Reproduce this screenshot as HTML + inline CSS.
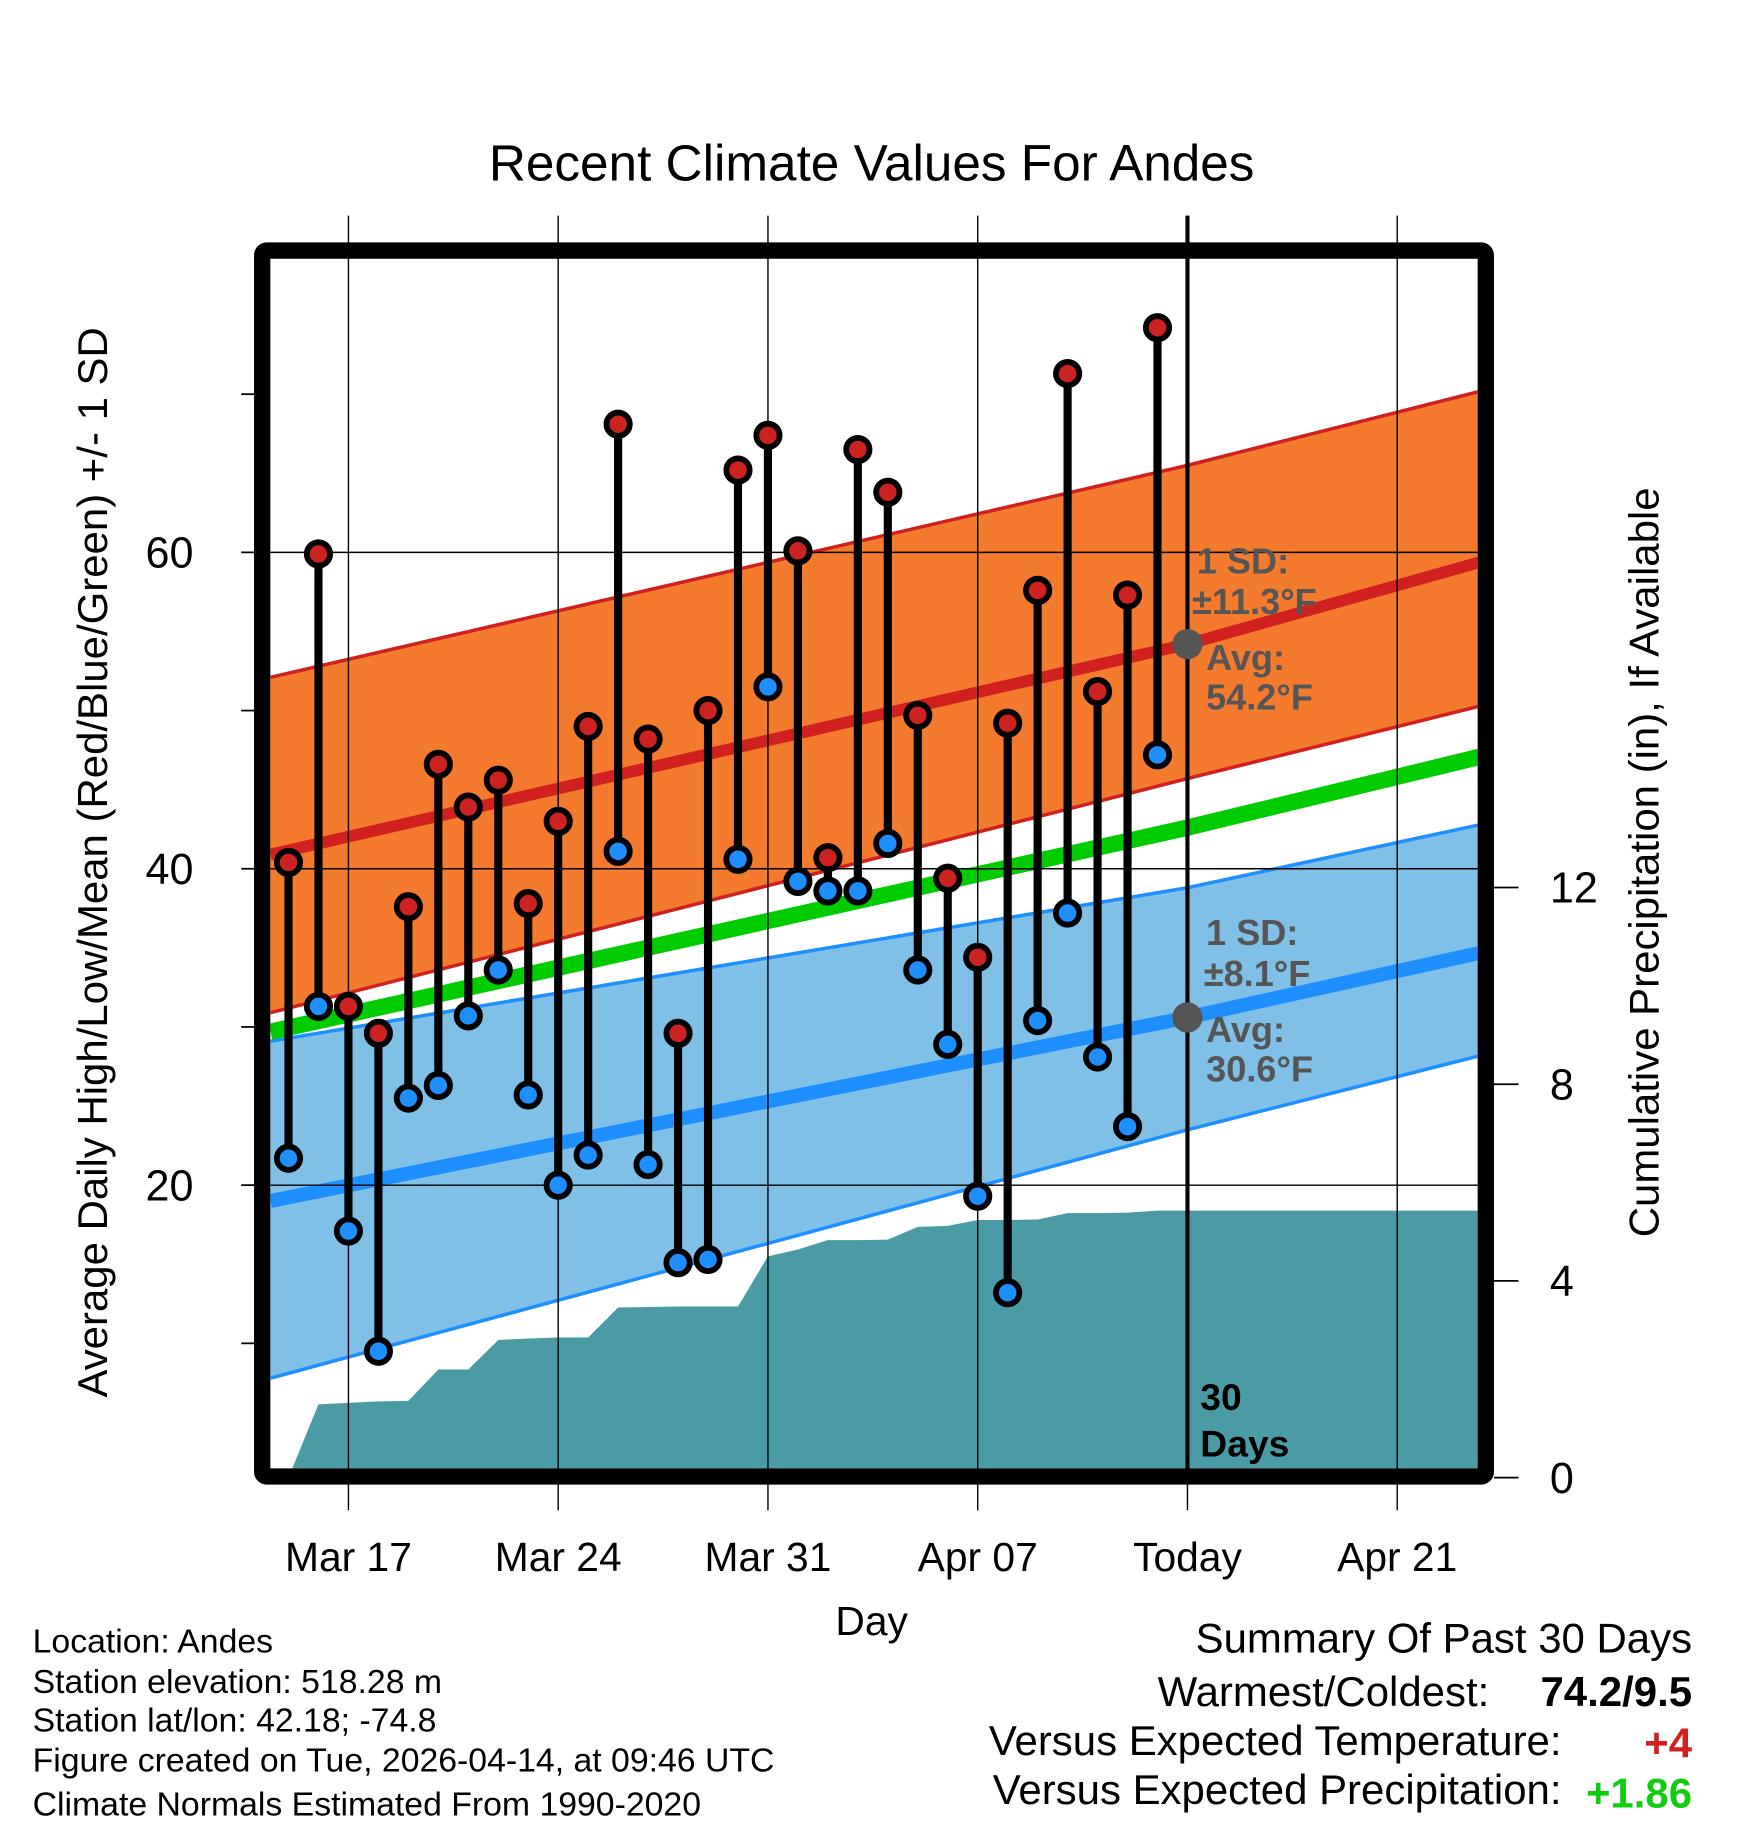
<!DOCTYPE html>
<html><head><meta charset="utf-8"><style>
html,body{margin:0;padding:0;background:#fff;}
svg{display:block;font-family:"Liberation Sans",Arial,sans-serif;}
</style></head><body>
<svg id="chart" width="1748" height="1828" viewBox="0 0 1500 1568.65" xmlns="http://www.w3.org/2000/svg">
<g id="bg"></g>
</svg>
<script>
const dayOffsets=[-2,-1,0,1,2,3,4,5,6,7,8,9,10,11,12,13,14,15,16,17,18,19,20,21,22,23,24,25,26,27];
const highs=[40.4,59.9,31.3,29.6,37.6,46.6,43.9,45.6,37.8,43.0,49.0,68.1,48.2,29.6,50.0,65.2,67.4,60.1,40.7,66.5,63.8,49.7,39.4,34.4,49.2,57.6,71.3,51.2,57.3,74.2];
const lows=[21.7,31.3,17.1,9.5,25.5,26.3,30.7,33.6,25.7,20.0,21.9,41.1,21.3,15.1,15.3,40.6,51.5,39.2,38.6,38.6,41.6,33.6,28.9,19.3,13.2,30.4,37.2,28.1,23.7,47.2];
const precip=[0,1.49,1.52,1.55,1.56,2.2,2.2,2.8,2.83,2.85,2.85,3.46,3.47,3.48,3.48,3.48,4.5,4.64,4.83,4.83,4.84,5.1,5.12,5.24,5.24,5.25,5.38,5.38,5.39,5.43];
const normDays=[-2.6,28,37.8];
const normHighMean=[40.9,54.2,59.4];
const normHighUpper=[52.1,65.5,70.2];
const normHighLower=[30.9,45.7,50.3];
const normLowMean=[19.0,30.6,34.7];
const normLowUpper=[29.1,38.8,42.8];
const normLowLower=[7.8,23.5,28.2];
const normMean=[29.7,42.6,47.1];
const xTickDays=[0,7,14,21,28,35];
const xTickLabels=["Mar 17","Mar 24","Mar 31","Apr 07","Today","Apr 21"];
const yTicks=[20,40,60];
const yMinor=[10,30,50,70];
const pTicks=[0,4,8,12];

const NS="http://www.w3.org/2000/svg";
const svg=document.getElementById('chart');
const X0=232,X1=1268,Y0=222,Y1=1260;
const x=d=>299+d*25.714;
const y=t=>1017-(t-20)*13.575;
const yp=p=>1268-p*42.2;
function mk(tag,attrs,parent){const e=document.createElementNS(NS,tag);for(const k in attrs)e.setAttribute(k,attrs[k]);(parent||svg).appendChild(e);return e;}
function txt(s,attrs){const e=mk('text',attrs);e.textContent=s;return e;}

const defs=mk('defs',{});
const cp=mk('clipPath',{id:'clip'},defs);
mk('rect',{x:X0,y:Y0,width:X1-X0,height:Y1-Y0},cp);
const plot=mk('g',{'clip-path':'url(#clip)'});

function bandPath(up,lo){
  let d='';
  normDays.forEach((n,i)=>{d+=(i?'L':'M')+x(n)+','+y(up[i]);});
  for(let i=normDays.length-1;i>=0;i--)d+='L'+x(normDays[i])+','+y(lo[i]);
  return d+'Z';
}
function linePath(v){return normDays.map((n,i)=>(i?'L':'M')+x(n)+','+y(v[i])).join('');}

let pd='M'+x(dayOffsets[0])+','+yp(0);
precip.forEach((p,i)=>{pd+='L'+x(dayOffsets[i])+','+yp(p);});
pd+='L'+(X1+5)+','+yp(precip[precip.length-1])+'L'+(X1+5)+','+yp(0)+'Z';
const pa=mk('path',{d:pd,fill:'#4a9ba5'},plot);



const hb=mk('path',{d:bandPath(normHighUpper,normHighLower),fill:'#f47a2e'},plot);


const lb=mk('path',{d:bandPath(normLowUpper,normLowLower),fill:'#80bfe6'},plot);


mk('path',{d:linePath(normHighUpper),stroke:'#d02020',fill:'none','stroke-width':3},plot);
mk('path',{d:linePath(normHighLower),stroke:'#d02020',fill:'none','stroke-width':3},plot);
mk('path',{d:linePath(normLowUpper),stroke:'#1e8fff',fill:'none','stroke-width':3},plot);
mk('path',{d:linePath(normLowLower),stroke:'#1e8fff',fill:'none','stroke-width':3},plot);
const gm=mk('path',{d:linePath(normMean),stroke:'#00cc00',fill:'none','stroke-width':14},plot);


const rm=mk('path',{d:linePath(normHighMean),stroke:'#d02020',fill:'none','stroke-width':10},plot);


const bm=mk('path',{d:linePath(normLowMean),stroke:'#1e8fff',fill:'none','stroke-width':12},plot);



yTicks.forEach(t=>{mk('line',{x1:X0,x2:X1,y1:y(t),y2:y(t),stroke:'#000','stroke-width':1.2});});
xTickDays.forEach(d=>{mk('line',{x1:x(d),x2:x(d),y1:185,y2:1296,stroke:'#000','stroke-width':1.2});});
const tl=mk('line',{x1:x(28),x2:x(28),y1:185,y2:1262,stroke:'#000','stroke-width':3.5});



dayOffsets.forEach((d,i)=>{
  const g=mk('g',{});
  
  
  mk('line',{x1:x(d),x2:x(d),y1:y(highs[i]),y2:y(lows[i]),stroke:'#000','stroke-width':7},g);
  const h=mk('circle',{cx:x(d),cy:y(highs[i]),r:10,fill:'#cc2222',stroke:'#000','stroke-width':5},g);
  
  
  const l=mk('circle',{cx:x(d),cy:y(lows[i]),r:10,fill:'#1e8fff',stroke:'#000','stroke-width':5},g);
  
  
});

mk('circle',{cx:x(28),cy:y(normHighMean[1]),r:13,fill:'#555'});
mk('circle',{cx:x(28),cy:y(normLowMean[1]),r:13,fill:'#555'});
const lab=[["1 SD:",1027,492],["±11.3°F",1023,527],["Avg:",1035,575],["54.2°F",1035,609],["1 SD:",1035,811],["±8.1°F",1033,846],["Avg:",1035,894],["30.6°F",1035,928]];
lab.forEach(a=>{const t=txt(a[0],{x:a[1],y:a[2],'font-size':31,'font-weight':'bold',fill:'#555'});});
txt("30",{x:1030,y:1210,'font-size':32,'font-weight':'bold'});
txt("Days",{x:1030,y:1250,'font-size':32,'font-weight':'bold'});

const fr=mk('rect',{x:225,y:215,width:1050,height:1052,fill:'none',stroke:'#000','stroke-width':14,rx:4});



yTicks.forEach(t=>{mk('line',{x1:207,x2:220,y1:y(t),y2:y(t),stroke:'#000','stroke-width':1.5});
  const e=txt(String(t),{x:166,y:y(t)+13,'font-size':37,'text-anchor':'end'});
  });
yMinor.forEach(t=>{mk('line',{x1:207,x2:220,y1:y(t),y2:y(t),stroke:'#000','stroke-width':1.5});});
pTicks.forEach(p=>{mk('line',{x1:1282,x2:1303,y1:yp(p),y2:yp(p),stroke:'#000','stroke-width':1.5});
  const e=txt(String(p),{x:1330,y:yp(p)+13,'font-size':37});
  });
xTickDays.forEach((d,i)=>{const e=txt(xTickLabels[i],{x:x(d),y:1348,'font-size':35,'text-anchor':'middle'});
  });

const T=(s,a,n)=>{const e=txt(s,a);return e;};
T("Recent Climate Values For Andes",{x:748,y:155,'font-size':44,'text-anchor':'middle'},'chart-title');
T("Day",{x:748,y:1403,'font-size':35,'text-anchor':'middle'},'x-axis-title');
T("Average Daily High/Low/Mean (Red/Blue/Green) +/- 1 SD",{x:0,y:0,'font-size':36,'text-anchor':'middle',transform:'translate(92,740) rotate(-90)'},'y-axis-title');
T("Cumulative Precipitation (in), If Available",{x:0,y:0,'font-size':36,'text-anchor':'middle',transform:'translate(1423,740) rotate(-90)'},'precip-axis-title');
const info=["Location: Andes","Station elevation: 518.28 m","Station lat/lon: 42.18; -74.8","Figure created on Tue, 2026-04-14, at 09:46 UTC","Climate Normals Estimated From 1990-2020"];
const iy=[1418,1453,1486,1520,1558];
info.forEach((s,i)=>T(s,{x:28,y:iy[i],'font-size':29},'station-info'));
T("Summary Of Past 30 Days",{x:1452,y:1418,'font-size':36,'text-anchor':'end'},'summary-title');
T("Warmest/Coldest:",{x:1278,y:1464,'font-size':36,'text-anchor':'end'},'warmest-label');
T("74.2/9.5",{x:1452,y:1464,'font-size':36,'font-weight':'bold','text-anchor':'end'},'warmest-value');
T("Versus Expected Temperature:",{x:1340,y:1506,'font-size':36,'text-anchor':'end'},'temp-label');
T("+4",{x:1452,y:1508,'font-size':36,'font-weight':'bold','text-anchor':'end',fill:'#d02020'},'temp-value');
T("Versus Expected Precipitation:",{x:1340,y:1548,'font-size':36,'text-anchor':'end'},'precip-label');
T("+1.86",{x:1452,y:1551,'font-size':36,'font-weight':'bold','text-anchor':'end',fill:'#11cc11'},'precip-value');
</script>
</body></html>
